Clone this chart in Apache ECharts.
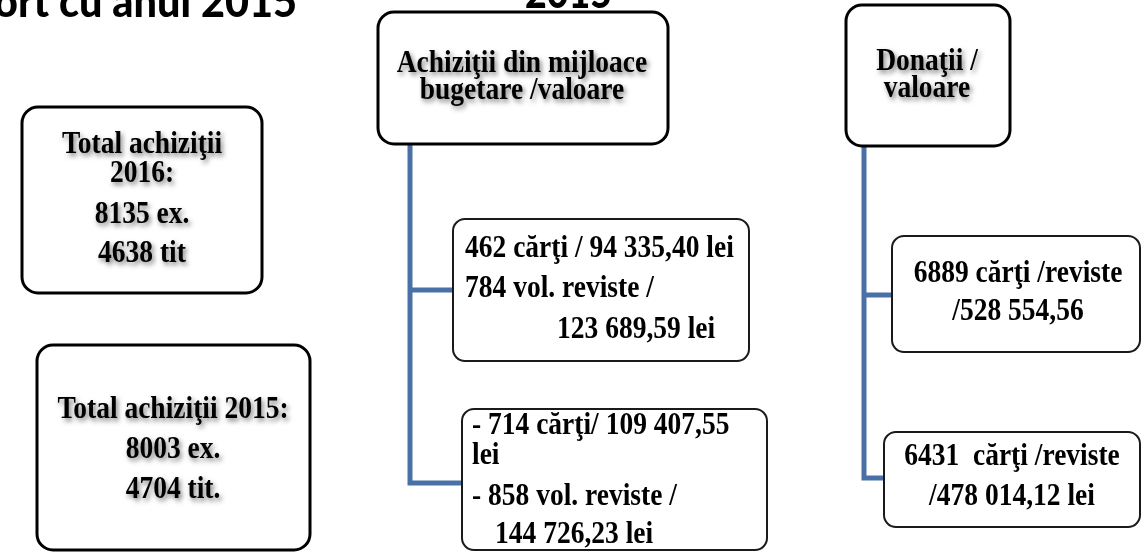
<!DOCTYPE html>
<html>
<head>
<meta charset="utf-8">
<script src="https://cdn.jsdelivr.net/npm/echarts@6/dist/echarts.min.js"></script>
<style>
html,body{margin:0;padding:0;background:#fff;overflow:hidden}
#c{width:1142px;height:553px}
</style>
</head>
<body>
<div id="c"></div>
<script>
// ---------- texts (data) ----------
const headingLeft = 'ort cu anul 2015';
const headingCenter = '2015';
const totals2016 = ['Total achiziţii', '2016:', '8135 ex.', '4638 tit'];
const totals2015 = ['Total achiziţii 2015:', '8003 ex.', '4704 tit.'];
const bugetHeader = ['Achiziţii din mijloace', 'bugetare /valoare'];
const buget2016 = ['462 cărţi / 94 335,40 lei', '784 vol. reviste /', '123 689,59 lei'];
const buget2015 = ['- 714 cărţi/ 109 407,55', 'lei', '- 858 vol. reviste /', '144 726,23 lei'];
const donatiiHeader = ['Donaţii /', 'valoare'];
const donatii2016 = ['6889 cărţi /reviste', '/528 554,56'];
const donatii2015 = ['6431  cărţi /reviste', '/478 014,12 lei'];

// ---------- layout (diagram coordinates) ----------
const boxRects = [
  [22, 107, 262, 293],
  [37, 345, 310, 550],
  [378, 12, 668, 144],
  [846, 5, 1010, 146],
  [453, 219, 749, 361],
  [462, 409, 767, 550],
  [892, 236, 1140, 352],
  [884, 432, 1140, 527]
];
const boxTexts = [totals2016, totals2015, bugetHeader, donatiiHeader, buget2016, buget2015, donatii2016, donatii2015];
const boxMain = [true, true, true, true, false, false, false, false];
const boxAlign = ['center', 'center', 'center', 'center', 'left', 'left', 'center', 'center'];
const boxTextX = [
  [142, 142, 142, 142],
  [173, 173, 173],
  [522, 522],
  [927, 927],
  [465, 465, 557],
  [472, 472, 472, 495],
  [1018, 1018],
  [1012, 1012]
];
const boxBaselines = [
  [156, 185, 226, 265],
  [421, 461, 501],
  [75, 102],
  [73, 100],
  [260, 300, 341],
  [437, 467, 508, 546],
  [285, 323],
  [468, 508]
];
const connectors = [
  [[410, 144], [410, 483], [462, 483]],
  [[410, 290], [453, 290]],
  [[864, 146], [864, 478], [884, 478]],
  [[864, 295], [892, 295]]
];

const FONT_SIZE = 27.5;
const FONT = 'bold ' + FONT_SIZE + 'px "Liberation Serif", "Times New Roman", serif';
const MID = FONT_SIZE * 0.34;
const TEXT_SCALE_Y = 1.15;
const HEAD_FONT = '900 44px Lato, "Open Sans", sans-serif';

function measure(text, font) {
  const ctx = document.createElement('canvas').getContext('2d');
  ctx.font = font;
  return ctx.measureText(text).width;
}
const headScale = 303 / measure(headingLeft, HEAD_FONT);
const headScale2 = 87 / measure(headingCenter, HEAD_FONT);

const chart = echarts.init(document.getElementById('c'), null, {renderer: 'canvas'});

function renderConnector(params, api) {
  const pts = connectors[api.value(0)].map(p => api.coord(p));
  return {
    type: 'polyline',
    shape: {points: pts},
    style: {stroke: '#4a70a8', lineWidth: 5, fill: null, lineJoin: 'miter'}
  };
}

function renderBox(params, api) {
  const i = api.value(0);
  const r = boxRects[i];
  const p0 = api.coord([r[0], r[1]]);
  const p1 = api.coord([r[2], r[3]]);
  const main = boxMain[i];
  const children = [{
    type: 'rect',
    shape: {x: p0[0], y: p0[1], width: p1[0] - p0[0], height: p1[1] - p0[1], r: main ? 16 : 12},
    style: {fill: '#fff', stroke: main ? '#000' : '#1a1a1a', lineWidth: main ? 3 : 2}
  }];
  boxTexts[i].forEach((t, k) => {
    const pos = api.coord([boxTextX[i][k], boxBaselines[i][k]]);
    const st = {
      text: t,
      x: 0,
      y: -MID,
      font: FONT,
      fill: '#000',
      align: boxAlign[i],
      textAlign: boxAlign[i],
      verticalAlign: 'middle',
      textVerticalAlign: 'middle'
    };
    if (main) {
      st.textShadowColor = 'rgba(0,0,0,0.5)';
      st.textShadowBlur = 5;
      st.textShadowOffsetX = 2;
      st.textShadowOffsetY = 3;
    }
    children.push({type: 'text', x: pos[0], y: pos[1], scaleY: TEXT_SCALE_Y, style: st});
  });
  return {type: 'group', children: children};
}

chart.setOption({
  animation: false,
  backgroundColor: '#fff',
  grid: {left: 0, right: 0, top: 0, bottom: 0},
  xAxis: {type: 'value', min: 0, max: 1142, show: false},
  yAxis: {type: 'value', min: 0, max: 553, inverse: true, show: false},
  graphic: [
    {
      type: 'text', x: 297, y: 3, scaleX: headScale, z: 10,
      style: {text: headingLeft, font: HEAD_FONT, fill: '#000', align: 'right', textAlign: 'right', verticalAlign: 'middle', textVerticalAlign: 'middle'}
    },
    {
      type: 'text', x: 612, y: -6, scaleX: headScale2, z: 10,
      style: {text: headingCenter, font: HEAD_FONT, fill: '#000', align: 'right', textAlign: 'right', verticalAlign: 'middle', textVerticalAlign: 'middle'}
    }
  ],
  series: [
    {
      type: 'custom',
      renderItem: renderConnector,
      data: connectors.map((c, i) => [i]),
      z: 1,
      silent: true
    },
    {
      type: 'custom',
      renderItem: renderBox,
      data: boxRects.map((b, i) => [i]),
      z: 2,
      silent: true
    }
  ]
});
</script>
</body>
</html>
